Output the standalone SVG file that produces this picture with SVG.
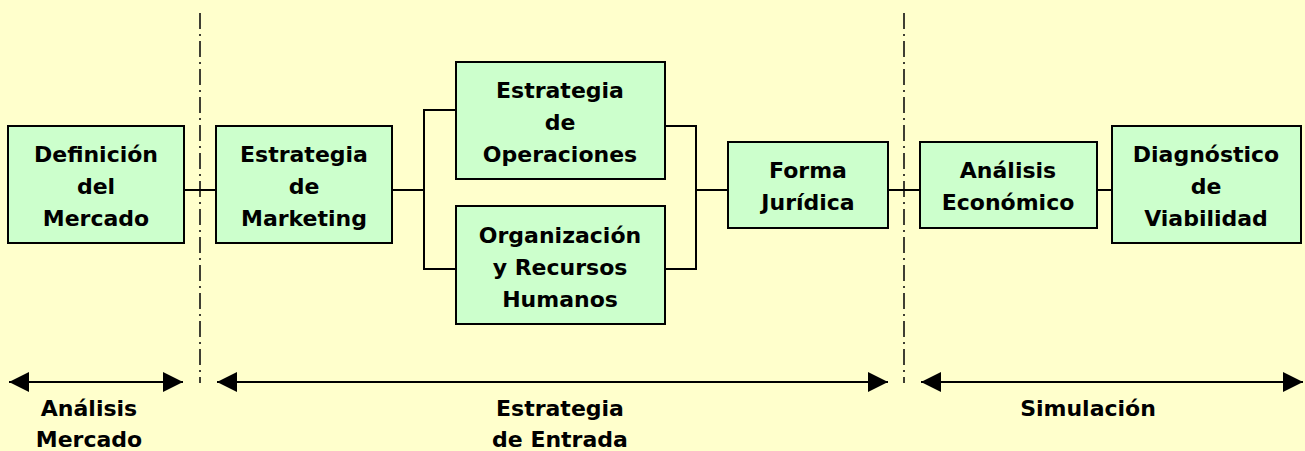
<svg xmlns="http://www.w3.org/2000/svg" width="1305" height="451" viewBox="0 0 1305 451">
<defs>
<marker id="ah" markerUnits="userSpaceOnUse" markerWidth="20" markerHeight="20" viewBox="0 0 20 20" refX="20" refY="10" orient="auto-start-reverse"><path d="M0,0 L20,10 L0,20 Z" fill="#000"/></marker>
</defs>
<style>
.box{fill:#CCFFCC;stroke:#000;stroke-width:2}
.t{font-family:"DejaVu Sans",sans-serif;font-weight:bold;font-size:22px;fill:#000;text-anchor:middle}
.c{fill:none;stroke:#000;stroke-width:2}
.sep{fill:none;stroke:#000;stroke-width:1.5;stroke-dasharray:16 5 2 5}
.ar{fill:none;stroke:#000;stroke-width:2;marker-start:url(#ah);marker-end:url(#ah)}
</style>
<rect width="1305" height="451" fill="#FFFFCC"/>
<g id="separators">
<line class="sep" x1="200" y1="13" x2="200" y2="383"/>
<line class="sep" x1="904" y1="13" x2="904" y2="383"/>
</g>
<g id="connectors">
<path class="c" d="M184,190 H216"/>
<path class="c" d="M392,190 H424"/>
<path class="c" d="M456,110 H424 V269 H456"/>
<path class="c" d="M665,126 H696 V269 H665"/>
<path class="c" d="M696,190 H728"/>
<path class="c" d="M888,190 H920"/>
<path class="c" d="M1097,190 H1112"/>
</g>
<g id="n1"><rect class="box" x="8" y="126" width="176" height="117"/>
<text class="t" x="96" y="162">Definición</text><text class="t" x="96" y="194">del</text><text class="t" x="96" y="226">Mercado</text></g>
<g id="n2"><rect class="box" x="216" y="126" width="176" height="117"/>
<text class="t" x="304" y="162">Estrategia</text><text class="t" x="304" y="194">de</text><text class="t" x="304" y="226">Marketing</text></g>
<g id="n3"><rect class="box" x="456" y="62" width="209" height="117"/>
<text class="t" x="560" y="98">Estrategia</text><text class="t" x="560" y="130">de</text><text class="t" x="560" y="162">Operaciones</text></g>
<g id="n4"><rect class="box" x="456" y="206" width="209" height="118"/>
<text class="t" x="560" y="243">Organización</text><text class="t" x="560" y="275">y Recursos</text><text class="t" x="560" y="307">Humanos</text></g>
<g id="n5"><rect class="box" x="728" y="142" width="160" height="86"/>
<text class="t" x="808" y="178">Forma</text><text class="t" x="808" y="210">Jurídica</text></g>
<g id="n6"><rect class="box" x="920" y="142" width="177" height="86"/>
<text class="t" x="1008" y="178">Análisis</text><text class="t" x="1008" y="210">Económico</text></g>
<g id="n7"><rect class="box" x="1112" y="126" width="189" height="117"/>
<text class="t" x="1206" y="162">Diagnóstico</text><text class="t" x="1206" y="194">de</text><text class="t" x="1206" y="226">Viabilidad</text></g>
<g id="phases">
<line class="ar" x1="9" y1="382" x2="183" y2="382"/>
<line class="ar" x1="217" y1="382" x2="888" y2="382"/>
<line class="ar" x1="921" y1="382" x2="1303" y2="382"/>
<text class="t" x="89" y="416">Análisis</text><text class="t" x="89" y="447">Mercado</text>
<text class="t" x="560" y="416">Estrategia</text><text class="t" x="560" y="447">de Entrada</text>
<text class="t" x="1088" y="416">Simulación</text>
</g>
</svg>
